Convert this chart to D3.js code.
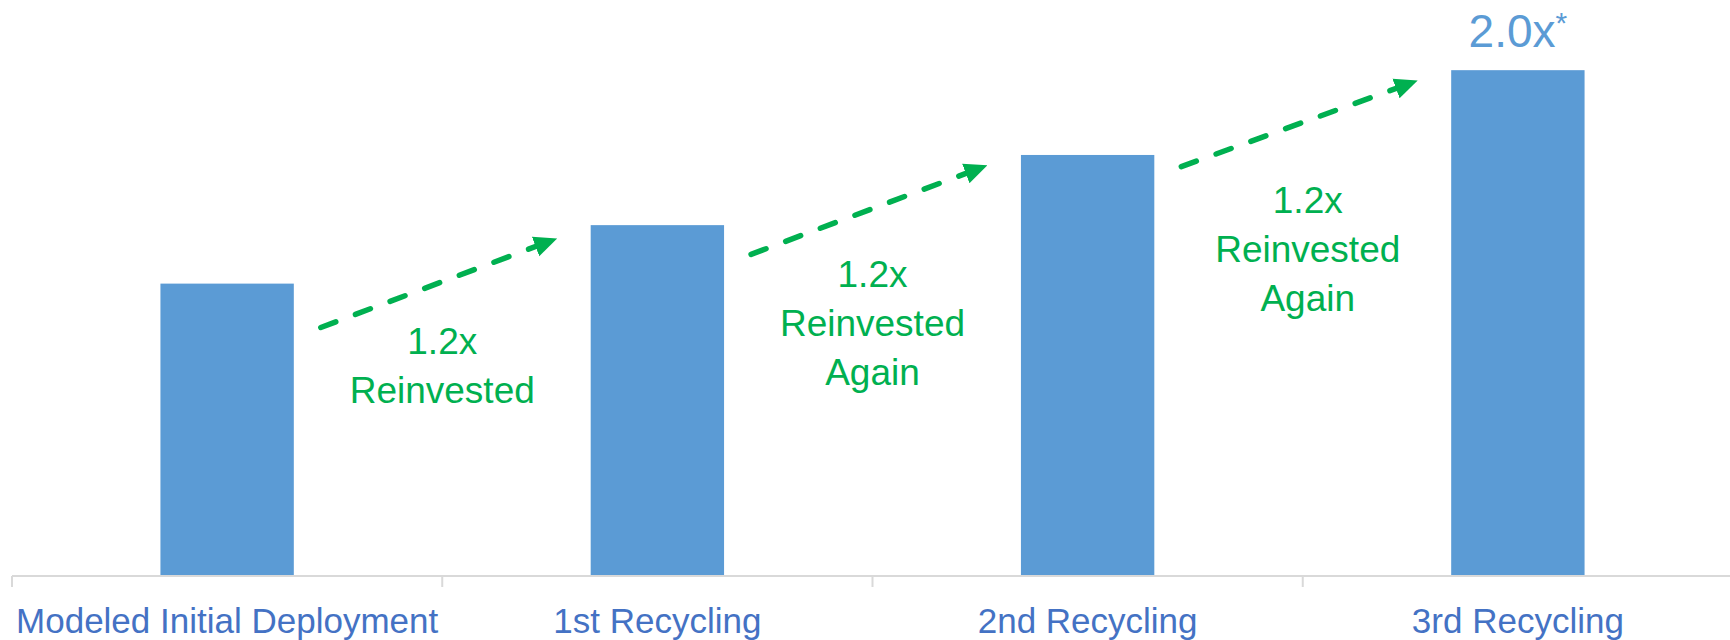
<!DOCTYPE html>
<html>
<head>
<meta charset="utf-8">
<script src="https://cdn.jsdelivr.net/npm/d3@7"></script>
<style>
  body { margin: 0; background: #fff; }
  text { font-family: "Liberation Sans", Arial, sans-serif; }
</style>
</head>
<body>
<script>
var width = 1730,
    height = 640;

// data
var categories = ["Modeled Initial Deployment", "1st Recycling", "2nd Recycling", "3rd Recycling"];
var values = [1.0, 1.2, 1.44, 1.73];
var topLabel = "2.0x";
var topLabelNote = "*";

// reinvestment arrows: from value (start) to value (tip), between bar i and i+1
var arrowFrom = [0.85, 1.10, 1.40];
var arrowTo = [1.16, 1.41, 1.70];
var noteLines = [["1.2x", "Reinvested"], ["1.2x", "Reinvested", "Again"], ["1.2x", "Reinvested", "Again"]];
var noteLevel = [0.76, 0.99, 1.24];

var barColor = "#5b9bd5",
    green = "#00b050",
    axisBlue = "#4472c4";

var baseY = 576;

var x = d3.scaleBand()
    .domain(categories)
    .range([12, 1733])
    .paddingInner(0.69)
    .paddingOuter(0.345);

var y = d3.scaleLinear()
    .domain([0, 1.97])
    .range([baseY, 0]);

var step = x.step();
var x0 = x.range()[0];

var svg = d3.select("body").append("svg")
    .attr("width", width)
    .attr("height", height);

svg.append("defs").append("marker")
    .attr("id", "head")
    .attr("viewBox", "0 0 10 10")
    .attr("refX", 7)
    .attr("refY", 5)
    .attr("markerWidth", 4.2)
    .attr("markerHeight", 4.2)
    .attr("markerUnits", "strokeWidth")
    .attr("orient", "auto")
    .append("path")
    .attr("d", "M0,0.5 L10,5 L0,9.5 z")
    .attr("fill", green);

// bars
svg.append("g").selectAll("rect")
    .data(values)
    .enter()
    .append("rect")
    .attr("x", function (d, i) { return x(categories[i]); })
    .attr("y", function (d) { return y(d); })
    .attr("width", x.bandwidth())
    .attr("height", function (d) { return y(0) - y(d); })
    .attr("fill", barColor);

// axis: labels from d3 axis, boundary ticks drawn by hand
var axis = svg.append("g")
    .attr("transform", "translate(0," + baseY + ")")
    .call(d3.axisBottom(x).tickSize(0));
axis.select(".domain").remove();
axis.selectAll("text")
    .attr("y", 57)
    .attr("dy", 0)
    .attr("fill", axisBlue)
    .style("font-size", "35px")
    .style("font-family", "'Liberation Sans', Arial, sans-serif");

svg.append("line")
    .attr("x1", x0).attr("x2", x0 + step * categories.length)
    .attr("y1", baseY).attr("y2", baseY)
    .attr("stroke", "#d9d9d9")
    .attr("stroke-width", 2);

svg.append("g").selectAll("line")
    .data(d3.range(categories.length + 1))
    .enter()
    .append("line")
    .attr("x1", function (i) { return x0 + i * step; })
    .attr("x2", function (i) { return x0 + i * step; })
    .attr("y1", baseY)
    .attr("y2", baseY + 11)
    .attr("stroke", "#d9d9d9")
    .attr("stroke-width", 2);

// arrows
svg.append("g").selectAll("line")
    .data(arrowFrom)
    .enter()
    .append("line")
    .attr("x1", function (d, i) { return x(categories[i]) + x.bandwidth() + 27; })
    .attr("y1", function (d) { return y(d); })
    .attr("x2", function (d, i) { return x(categories[i + 1]) - 40; })
    .attr("y2", function (d, i) { return y(arrowTo[i]) + 4; })
    .attr("stroke", green)
    .attr("stroke-width", 5.5)
    .attr("stroke-linecap", "round")
    .attr("stroke-dasharray", "16,21")
    .attr("marker-end", "url(#head)");

// reinvestment notes
noteLines.forEach(function (lines, i) {
    var t = svg.append("text")
        .attr("text-anchor", "middle")
        .attr("fill", green)
        .style("font-size", "37px");
    lines.forEach(function (s, j) {
        t.append("tspan")
            .attr("x", x0 + (i + 1) * step + (i == 2 ? 5 : 0))
            .attr("y", y(noteLevel[i]) + j * 49)
            .text(s);
    });
});

// value label on last bar
var last = categories.length - 1;
var vl = svg.append("text")
    .attr("x", x(categories[last]) + x.bandwidth() / 2)
    .attr("y", y(values[last]) - 23)
    .attr("text-anchor", "middle")
    .attr("fill", barColor)
    .style("font-size", "46px");
vl.append("tspan").text(topLabel);
vl.append("tspan")
    .attr("dy", -14)
    .style("font-size", "30px")
    .text(topLabelNote);
</script>
</body>
</html>
